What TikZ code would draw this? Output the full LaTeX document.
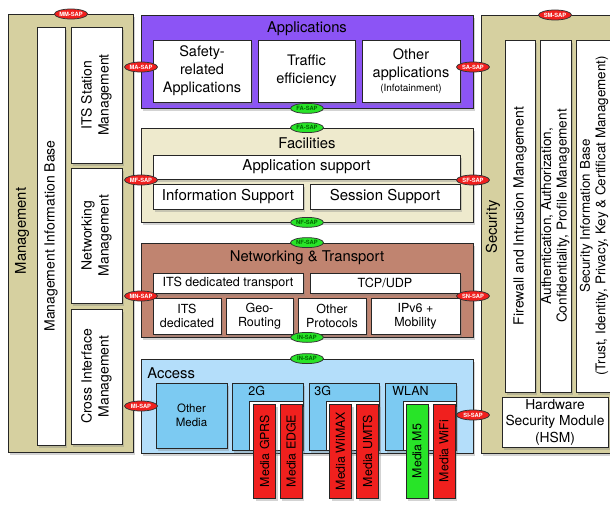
\documentclass[tikz,border=0pt]{standalone}
\usepackage{fontspec}
\setmainfont{TeX Gyre Heros}
\usetikzlibrary{shapes.geometric,shadows}

\definecolor{mgmtkhaki}{RGB}{214,208,160}
\definecolor{appspurple}{RGB}{140,84,245}
\definecolor{facbeige}{RGB}{238,234,205}
\definecolor{netbrown}{RGB}{192,132,112}
\definecolor{accblue}{RGB}{180,222,250}
\definecolor{medblue}{RGB}{124,202,242}
\definecolor{mediared}{RGB}{240,32,30}
\definecolor{mediagreen}{RGB}{40,228,40}

\tikzset{every picture/.style={line width=0.75pt}}

\begin{document}
\begin{tikzpicture}[x=1pt,y=1pt,yscale=-1,xscale=1,
  shade box/.style={draw=black!85, inner sep=0pt, align=center,
    drop shadow={opacity=0.35, shadow xshift=2pt, shadow yshift=-3pt}},
  layerbox/.style={shade box},
  wbox/.style={shade box, fill=white, font=\fontsize{14}{17}\selectfont},
  mediabox/.style={shade box, rotate=90, minimum width=94pt, minimum height=22pt,
    font=\fontsize{12.4}{14}\selectfont},
  title/.style={inner sep=0pt, font=\fontsize{14.8}{17}\selectfont},
  sap/.style={ellipse, draw=black!80, inner sep=0pt, minimum width=33pt,
    minimum height=10pt, font=\fontsize{5.8}{6}\selectfont\bfseries},
  redsap/.style={sap, fill=mediared, text=white},
  greensap/.style={sap, fill=mediagreen, text=black!60!green}]
  \useasboundingbox (0,0) rectangle (610,505);

  % outer layers
  \node (mgmt) [layerbox, fill=mgmtkhaki, minimum width=125pt, minimum height=438pt] at (70.5,233) {};
  \node (sec) [layerbox, fill=mgmtkhaki, minimum width=139pt, minimum height=438pt] at (550.5,234) {};
  \node (apps) [layerbox, fill=appspurple, minimum width=332pt, minimum height=93pt] at (307,61.5) {};
  \node (fac) [layerbox, fill=facbeige, minimum width=332pt, minimum height=94pt] at (307,175) {};
  \node (net) [layerbox, fill=netbrown, minimum width=332pt, minimum height=94pt] at (307,290) {};
  \node (acc) [layerbox, fill=accblue, minimum width=332pt, minimum height=94pt] at (307,406) {};

  \node (mgmttitle) [title, rotate=90] at (22,231) {Management};
  \node (sectitle) [title, rotate=90] at (493,227) {Security};
  \node (appstitle) [title] at (307,29) {Applications};
  \node (factitle) [title] at (307,143) {Facilities};
  \node (nettitle) [title] at (307,258) {Networking \& Transport};
  \node (acctitle) [title, anchor=west] at (147,373) {Access};

  % management
  \node (mib) [wbox, rotate=90, minimum width=418pt, minimum height=28pt] at (51,236) {Management Information Base};
  \node (itsm) [wbox, rotate=90, minimum width=136pt, minimum height=51pt] at (96.5,95) {ITS Station\\Management};
  \node (netm) [wbox, rotate=90, minimum width=135pt, minimum height=51pt] at (96.5,235.5) {Networking\\Management};
  \node (cim) [wbox, rotate=90, minimum width=135pt, minimum height=51pt] at (96.5,376.5) {Cross Interface\\Management};

  % security
  \node (fw) [wbox, rotate=90, minimum width=352pt, minimum height=30pt] at (520,216) {Firewall and Intrusion Management};
  \node (auth) [wbox, rotate=90, minimum width=352pt, minimum height=31pt, font=\fontsize{13.6}{15.5}\selectfont] at (555.5,216) {Authentication, Authorization,\\Confidentiality, Profile Management};
  \node (sib) [wbox, rotate=90, minimum width=352pt, minimum height=36pt, font=\fontsize{13.4}{15.5}\selectfont] at (594,216) {Security Information Base\\(Trust, Identity, Privacy, Key \& Certificat Management)};
  \node (hsm) [wbox, minimum width=106pt, minimum height=50pt, font=\fontsize{13.8}{16.5}\selectfont] at (555,422) {Hardware\\Security Module\\(HSM)};

  % applications
  \node (safety) [wbox, minimum width=98pt, minimum height=62pt, font=\fontsize{14.5}{18}\selectfont] at (202,71) {Safety-\\related\\Applications};
  \node (traffic) [wbox, minimum width=97pt, minimum height=62pt, font=\fontsize{14.5}{18}\selectfont] at (306.5,71) {Traffic\\efficiency};
  \node (otherapps) [wbox, minimum width=98pt, minimum height=62pt, font=\fontsize{14.5}{18}\selectfont] at (411,71) {Other\\applications\\[-4pt]{\fontsize{10}{11}\selectfont(Infotainment)}};

  % facilities
  \node (appsup) [wbox, minimum width=307pt, minimum height=24pt, font=\fontsize{15}{17}\selectfont] at (306.5,167) {Application support};
  \node (infosup) [wbox, minimum width=150pt, minimum height=25pt, font=\fontsize{15}{17}\selectfont] at (228,196.5) {Information Support};
  \node (sessup) [wbox, minimum width=150pt, minimum height=25pt, font=\fontsize{15}{17}\selectfont] at (385,196.5) {Session Support};

  % networking & transport
  \node (itsdt) [wbox, minimum width=150pt, minimum height=20pt, font=\fontsize{12.6}{14}\selectfont] at (228,283) {ITS dedicated transport};
  \node (tcpudp) [wbox, minimum width=150pt, minimum height=20pt, font=\fontsize{12.6}{14}\selectfont] at (385,283) {TCP/UDP};
  \node (itsded) [wbox, minimum width=68pt, minimum height=36pt, font=\fontsize{12.5}{14}\selectfont] at (187,316) {ITS\\dedicated};
  \node (geo) [wbox, minimum width=67pt, minimum height=36pt, font=\fontsize{12.5}{14}\selectfont] at (259.5,316) {Geo-\\Routing};
  \node (otherprot) [wbox, minimum width=68pt, minimum height=36pt, font=\fontsize{12.5}{14}\selectfont] at (332,316) {Other\\Protocols};
  \node (ipv6) [wbox, minimum width=89pt, minimum height=36pt, font=\fontsize{12.5}{14}\selectfont] at (415.5,316) {IPv6 +\\Mobility};

  % access
  \node (omedia) [shade box, fill=medblue, minimum width=71pt, minimum height=65pt, font=\fontsize{11.5}{13.5}\selectfont] at (191.5,415.5) {Other\\Media};
  \node (gtwo) [shade box, fill=medblue, minimum width=71pt, minimum height=67pt] at (267.5,416.5) {};
  \node (gthree) [shade box, fill=medblue, minimum width=70pt, minimum height=67pt] at (344,416.5) {};
  \node (wlan) [shade box, fill=medblue, minimum width=71pt, minimum height=67pt] at (420.5,416.5) {};
  \node (gtwolbl) [title, anchor=west, font=\fontsize{12.5}{14}\selectfont] at (248,391) {2G};
  \node (gthreelbl) [title, anchor=west, font=\fontsize{12.5}{14}\selectfont] at (314,391) {3G};
  \node (wlanlbl) [title, anchor=west, font=\fontsize{12.5}{14}\selectfont] at (392,391) {WLAN};
  \node (gtwoin) [draw=black!85, fill=white, inner sep=0pt, minimum width=54pt, minimum height=49pt] at (276,425.5) {};
  \node (gthreein) [draw=black!85, fill=white, inner sep=0pt, minimum width=53pt, minimum height=49pt] at (352.5,425.5) {};
  \node (wlanin) [draw=black!85, fill=white, inner sep=0pt, minimum width=53pt, minimum height=49pt] at (429.5,425.5) {};

  \node (gprs) [mediabox, fill=mediared] at (264.5,451) {Media GPRS};
  \node (edge) [mediabox, fill=mediared] at (291,451) {Media EDGE};
  \node (wimax) [mediabox, fill=mediared] at (340.5,451) {Media WiMAX};
  \node (umts) [mediabox, fill=mediared] at (367.5,451) {Media UMTS};
  \node (mfive) [mediabox, fill=mediagreen] at (417,451) {Media M5};
  \node (wifi) [mediabox, fill=mediared] at (444,451) {Media WiFi};

  % service access points
  \node (mmsap) [redsap] at (71,14) {MM-SAP};
  \node (smsap) [redsap] at (555,15) {SM-SAP};
  \node (masap) [redsap] at (141,67) {MA-SAP};
  \node (sasap) [redsap] at (473,67) {SA-SAP};
  \node (mfsap) [redsap] at (141,180) {MF-SAP};
  \node (sfsap) [redsap] at (473,180) {SF-SAP};
  \node (mnsap) [redsap] at (141,296) {MN-SAP};
  \node (snsap) [redsap] at (473,296) {SN-SAP};
  \node (misap) [redsap] at (141,406) {MI-SAP};
  \node (sisap) [redsap] at (473,415) {SI-SAP};
  \node (fasapa) [greensap] at (apps.south) {FA-SAP};
  \node (fasapb) [greensap] at (fac.north) {FA-SAP};
  \node (nfsapa) [greensap] at (fac.south) {NF-SAP};
  \node (nfsapb) [greensap] at (net.north) {NF-SAP};
  \node (insapa) [greensap] at (net.south) {IN-SAP};
  \node (insapb) [greensap] at (acc.north) {IN-SAP};
\end{tikzpicture}
\end{document}
